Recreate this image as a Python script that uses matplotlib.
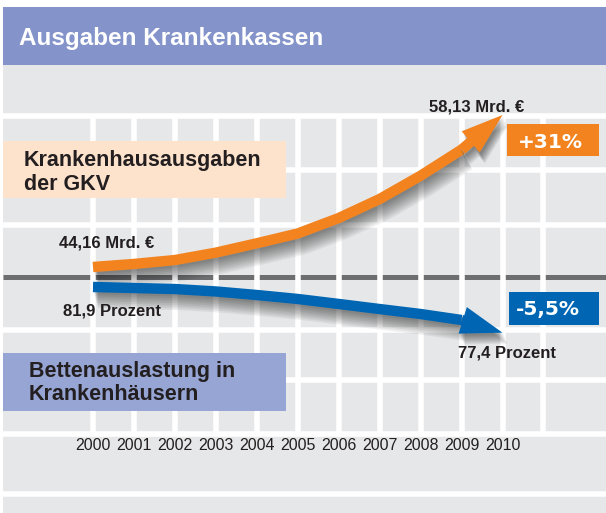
import matplotlib
matplotlib.use("Agg")
import matplotlib.pyplot as plt
import matplotlib.patheffects as pe
from matplotlib.patches import Rectangle
from matplotlib.transforms import blended_transform_factory

# Daten
years = [2000, 2001, 2002, 2003, 2004, 2005, 2006, 2007, 2008, 2009, 2010]
year_labels = [str(y) for y in years]
ausgaben = [44.16, 44.44, 44.80, 45.48, 46.34, 47.24, 48.66, 50.41, 52.55, 54.95, 58.13]   # Mrd. Euro
auslastung = [81.9, 81.80, 81.70, 81.46, 81.11, 80.72, 80.23, 79.73, 79.24, 78.65, 77.4]  # Prozent
grid_years = years + [2011]

title = "Ausgaben Krankenkassen"
label_ausgaben = ["Krankenhausausgaben", "der GKV"]
label_auslastung = ["Bettenauslastung in", "Krankenhäusern"]
change_ausgaben = "+31%"
change_auslastung = "-5,5%"

HEADER = "#8494ca"
GRAY = "#e6e7e8"
DARK = "#6d6e70"
ORANGE = "#f3831f"
BLUE = "#0066b3"
PEACH = "#fde2cc"
LAVENDER = "#97a5d4"
TXT = "#231f20"

plt.rcParams['font.family'] = ['Liberation Sans', 'DejaVu Sans']

W, H = 606, 513
fig = plt.figure(figsize=(W / 100, H / 100), dpi=100)

# Hintergrund in Pixelkoordinaten
bg = fig.add_axes([0, 0, 1, 1])
bg.axis('off')

# Datenachsen
ax = fig.add_axes([0, (H - 434) / H, 1, (434 - 116) / H])
ax.set_xlim(1997.729, 2012.527)
ax.set_ylim(28.81, 58.04)
ax.patch.set_visible(False)
for s in ax.spines.values():
    s.set_visible(False)
ax.set_yticks([])
ax.set_xticks(years, year_labels, fontsize=11.5, color=TXT,
              family=['Liberation Sans Narrow', 'Liberation Sans'])
ax.tick_params(axis='x', length=0, pad=3)

ax2 = ax.twinx()
ax2.set_ylim(67.43, 98.73)
ax2.set_yticks([])
for s in ax2.spines.values():
    s.set_visible(False)

bg.add_patch(Rectangle((3, 7), W - 3, 58, color=HEADER, lw=0, zorder=0))
bg.add_patch(Rectangle((3, 65), W - 3, H - 65, color=GRAY, lw=0, zorder=0))
bg.text(19, 44.5, title, color='white', fontsize=17.5, fontweight='bold', va='baseline', zorder=5)

bg.plot([3, W], [276.5, 276.5], color=DARK, lw=3.6, solid_capstyle='butt', zorder=1)
bg.hlines([116, 170, 225, 330, 380, 434, 493.5], 3, W, colors='white', lw=4, zorder=1.5)
trans = blended_transform_factory(ax.transData, bg.transData)
bg.vlines(grid_years, 116, 434, transform=trans, colors='white', lw=4, zorder=1.5)

# Legendenkaesten
bg.add_patch(Rectangle((3, 141), 283, 57, color=PEACH, lw=0, zorder=3))
bg.text(23.5, 166, label_ausgaben[0], fontsize=15.5, fontweight='bold', color=TXT, va='baseline', zorder=5)
bg.text(23.5, 190, label_ausgaben[1], fontsize=15.5, fontweight='bold', color=TXT, va='baseline', zorder=5)
bg.add_patch(Rectangle((3, 353), 283, 58, color=LAVENDER, lw=0, zorder=3))
bg.text(29, 377, label_auslastung[0], fontsize=15.5, fontweight='bold', color=TXT, va='baseline', zorder=5)
bg.text(29, 400.5, label_auslastung[1], fontsize=15.5, fontweight='bold', color=TXT, va='baseline', zorder=5)

# Veraenderung
bg.add_patch(Rectangle((507, 124), 92, 32, color=ORANGE, lw=0, zorder=3))
bg.text(550, 148, change_ausgaben, fontsize=14.5, fontweight='bold', color='white',
        ha='center', va='baseline', family='DejaVu Sans', zorder=5)
bg.add_patch(Rectangle((509, 292), 90, 33, color=BLUE, lw=0, zorder=3))
bg.text(548, 315, change_auslastung, fontsize=14.5, fontweight='bold', color='white',
        ha='center', va='baseline', family='DejaVu Sans', zorder=5)

bg.set_xlim(0, W)
bg.set_ylim(H, 0)


def draw_arrow(a, xs, ys, color):
    lw = 7.5
    n = 9
    shadow = [pe.SimpleLineShadow(offset=(1.0 + i * 0.35, -1.5 - i * 0.8), shadow_color='black',
                                  alpha=0.06, linewidth=lw + i * 0.9) for i in range(n)]
    a.plot(xs[:-1], ys[:-1], color=color, lw=lw, solid_capstyle='butt',
           solid_joinstyle='round', clip_on=False, path_effects=shadow + [pe.Normal()])
    pshadow = [pe.SimplePatchShadow(offset=(1.0 + i * 0.35, -1.5 - i * 0.8), shadow_rgbFace='black',
                                    alpha=0.06) for i in range(n)]
    a.annotate('', xy=(xs[-1], ys[-1]), xytext=(xs[-2], ys[-2]), annotation_clip=False,
               arrowprops=dict(arrowstyle=f'simple,head_length=30,head_width=20,tail_width={lw}',
                               mutation_scale=1, fc=color, ec='none', lw=0,
                               shrinkA=0, shrinkB=0, path_effects=pshadow + [pe.Normal()]))


draw_arrow(ax, years, ausgaben, ORANGE)
draw_arrow(ax2, years, auslastung, BLUE)

lab = dict(textcoords='offset points', ha='center', va='baseline', fontsize=12,
           fontweight='bold', color=TXT, annotation_clip=False)
ax.annotate(f"{ausgaben[0]:.2f}".replace('.', ',') + " Mrd. €", xy=(years[0], ausgaben[0]),
            xytext=(9.7, 14.4), **lab)
ax.annotate(f"{ausgaben[-1]:.2f}".replace('.', ',') + " Mrd. €", xy=(years[-1], ausgaben[-1]),
            xytext=(-18.4, 2.2), **lab)
ax2.annotate(f"{auslastung[0]:.1f}".replace('.', ',') + " Prozent", xy=(years[0], auslastung[0]),
             xytext=(13.7, -20.2), **lab)
ax2.annotate(f"{auslastung[-1]:.1f}".replace('.', ',') + " Prozent", xy=(years[-1], auslastung[-1]),
             xytext=(2.9, -17.9), **lab)

fig.savefig('out.png', dpi=100)
